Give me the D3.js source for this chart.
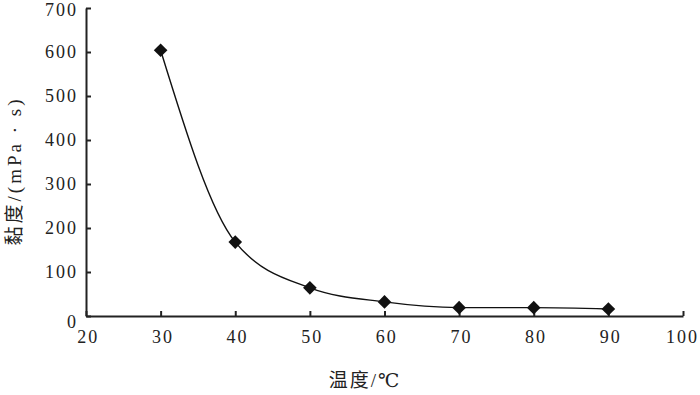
<!DOCTYPE html>
<html>
<head>
<meta charset="utf-8">
<script src="https://cdn.jsdelivr.net/npm/d3@7"></script>
<style>
  body { margin: 0; background: #fff; }
</style>
</head>
<body>
<svg id="chart"></svg>
<script>
// temperature (°C) vs viscosity (mPa·s)
const temps = [30, 40, 50, 60, 70, 80, 90];
const viscosity = [604, 168, 64, 32, 19, 19, 16];
const xTicks = [20, 30, 40, 50, 60, 70, 80, 90, 100];
const yTicks = [0, 100, 200, 300, 400, 500, 600, 700];

const width = 700, height = 395;
const margin = {top: 8, right: 17, bottom: 79, left: 86};
const innerW = width - margin.left - margin.right;
const innerH = height - margin.top - margin.bottom;
const serif = '"Liberation Serif", "Times New Roman", "DejaVu Serif", serif';

const svg = d3.select('#chart')
    .attr('width', width)
    .attr('height', height);

const chart = svg.append('g')
    .attr('transform', `translate(${margin.left},${margin.top})`);

const xScale = d3.scaleLinear().domain([20, 100]).range([0, innerW]);
const yScale = d3.scaleLinear().domain([0, 700]).range([innerH, 0]);

// ticks point inward
const xAxis = d3.axisBottom(xScale)
    .tickValues(xTicks)
    .tickSize(-5)
    .tickSizeOuter(0)
    .tickPadding(14);

const yAxis = d3.axisLeft(yScale)
    .tickValues(yTicks)
    .tickSize(-5)
    .tickSizeOuter(0)
    .tickPadding(8);

const xAxisG = chart.append('g')
    .attr('transform', `translate(0,${innerH})`)
    .call(xAxis);

const yAxisG = chart.append('g').call(yAxis);

[xAxisG, yAxisG].forEach(g => {
  g.attr('font-family', serif).attr('font-size', 18);
  g.select('.domain').attr('stroke', '#222').attr('stroke-width', 2);
  g.selectAll('.tick line').attr('stroke', '#222').attr('stroke-width', 2);
  g.selectAll('.tick text')
      .style('font-family', serif)
      .style('font-size', '18px')
      .style('letter-spacing', '2px')
      .attr('fill', '#222');
});
// '0' on y sits a bit low like in print, 700 kept inside the page
yAxisG.selectAll('.tick').filter(d => d === 0).select('text').attr('dy', '0.62em');
yAxisG.selectAll('.tick').filter(d => d === 700).select('text').attr('dy', '0.42em');
xAxisG.selectAll('.tick text').attr('dx', '0.1em');
xAxisG.selectAll('.tick').filter(d => d === 100).select('text').attr('dx', '-0.05em');

const data = temps.map((t, i) => ({t, v: viscosity[i]}));

const line = d3.line()
    .x(d => xScale(d.t))
    .y(d => yScale(d.v))
    .curve(d3.curveMonotoneX);

chart.append('path')
    .datum(data)
    .attr('fill', 'none')
    .attr('stroke', '#111')
    .attr('stroke-width', 1.4)
    .attr('d', line);

chart.selectAll('.pt')
    .data(data)
  .join('path')
    .attr('class', 'pt')
    .attr('d', d3.symbol(d3.symbolDiamond2, 118)())
    .attr('fill', '#111')
    .attr('transform', d => `translate(${xScale(d.t)},${yScale(d.v)})`);

svg.append('text')
    .attr('text-anchor', 'middle')
    .attr('x', 365)
    .attr('y', 387)
    .style('font-family', serif + ', "Noto Sans CJK SC"')
    .style('font-size', '19px')
    .style('letter-spacing', '2px')
    .attr('fill', '#222')
    .text('温度/℃');

svg.append('text')
    .attr('text-anchor', 'middle')
    .attr('transform', 'translate(21,171) rotate(-90)')
    .style('font-family', serif + ', "Noto Sans CJK SC"')
    .style('font-size', '19px')
    .style('letter-spacing', '3px')
    .attr('fill', '#222')
    .text('黏度/(mPa · s)');
</script>
</body>
</html>
